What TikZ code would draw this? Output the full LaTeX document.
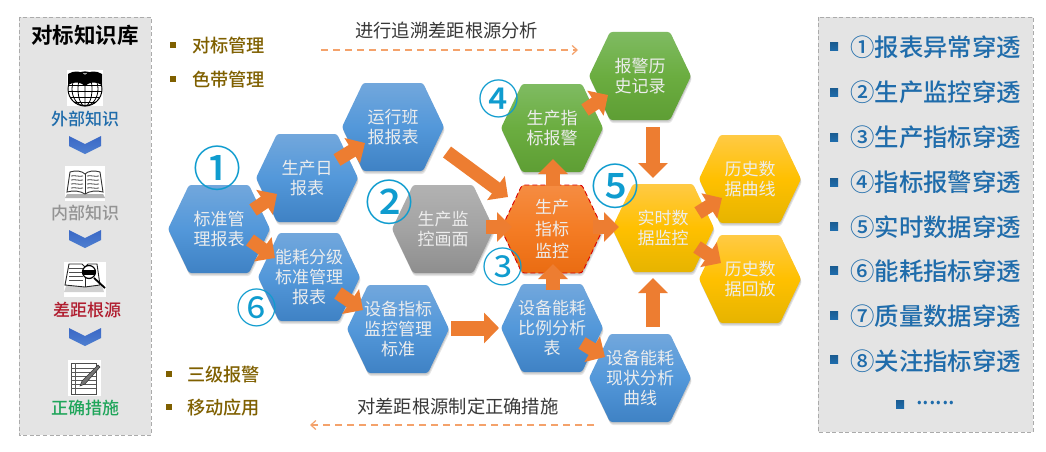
\documentclass[tikz,border=0pt]{standalone}
\usepackage{fontspec}
\setmainfont{Noto Sans CJK SC}[BoldFont={Noto Sans CJK SC Medium}]
\newfontfamily\titlefont{Noto Sans CJK SC Bold}
\usetikzlibrary{arrows.meta,calc,backgrounds}
\definecolor{panelfill}{HTML}{E4E4E4}
\definecolor{panelline}{HTML}{ABABAB}
\definecolor{arrowor}{HTML}{ED7D31}
\definecolor{dashor}{HTML}{F4A26B}
\definecolor{listblue}{HTML}{1F6CAB}
\definecolor{brownish}{HTML}{7F6000}
\definecolor{circ}{HTML}{0F9CCF}
\definecolor{gapred}{HTML}{B01C2E}
\definecolor{fixgreen}{HTML}{1FA55A}
\pgfdeclarelayer{hexbg}
\pgfdeclarelayer{arrowbg}
\pgfsetlayers{hexbg,arrowbg,main}
\tikzset{
  x=1pt,y=-1pt,
  panel/.style={fill=panelfill,draw=panelline,line width=0.8pt,dash pattern=on 4pt off 2.5pt},
  hexlabel/.style={minimum width=102pt,minimum height=88pt,inner sep=0pt,align=center,text=white!93!black,font=\fontsize{17}{20}\selectfont},
  hexblue/.style={top color=blue1,bottom color=blue3,middle color=blue2},
  hexgreen/.style={top color=green1,bottom color=green3,middle color=green2},
  hexgray/.style={top color=gray1,bottom color=gray3,middle color=gray2},
  hexyellow/.style={top color=yel1,bottom color=yel3,middle color=yel2},
  hexorange/.style={top color=or1,bottom color=or3,middle color=or2,draw=red!85!black,line width=0.9pt,dash pattern=on 5pt off 3pt},
  blockarrow/.style={draw=arrowor,line width=13.5pt,-{Triangle[length=15pt,width=29pt]}},
  dasharrow/.style={draw=dashor,line width=1.2pt,dash pattern=on 7pt off 5pt},
  sidetitle/.style={font=\fontsize{21.5}{24}\selectfont\titlefont,text=black,inner sep=0pt},
  sidelabel/.style={font=\fontsize{17}{20}\selectfont\bfseries,inner sep=0pt},
  tag/.style={font=\fontsize{18.2}{20}\selectfont\bfseries,text=brownish,anchor=west,inner sep=0pt},
  note/.style={font=\fontsize{18.3}{20}\selectfont,text=black!78,anchor=west,inner sep=0pt},
  listitem/.style={font=\fontsize{24.4}{26}\selectfont\bfseries,text=listblue,anchor=west,inner sep=0pt},
  bignum/.style={font=\fontsize{48}{50}\selectfont\bfseries,text=circ,inner sep=0pt},
  midnum/.style={font=\fontsize{41}{44}\selectfont,text=circ,inner sep=0pt},
  chevron/.style={top color=chev1,bottom color=chev2},
  iconbg/.style={fill=white},
}
\definecolor{blue1}{HTML}{72A7DC}\definecolor{blue2}{HTML}{5398DA}\definecolor{blue3}{HTML}{3F82C4}
\definecolor{green1}{HTML}{7FBB62}\definecolor{green2}{HTML}{6BAD40}\definecolor{green3}{HTML}{5E9E34}
\definecolor{gray1}{HTML}{B2B2B2}\definecolor{gray2}{HTML}{A3A3A3}\definecolor{gray3}{HTML}{8E8E8E}
\definecolor{yel1}{HTML}{FFCA45}\definecolor{yel2}{HTML}{FFC000}\definecolor{yel3}{HTML}{E6B400}
\definecolor{or1}{HTML}{F58C42}\definecolor{or2}{HTML}{F47C24}\definecolor{or3}{HTML}{EA6C12}
\definecolor{chev1}{HTML}{3A68C6}\definecolor{chev2}{HTML}{4E7FD0}
\newcommand\hexpath{(-51,0) -- (-30,-44) -- (30,-44) -- (51,0) -- (30,44) -- (-30,44) -- cycle}
\newcommand\hexa[5]{%
  \node[hexlabel] (#1) at (#2,#3) {#5};
  \begin{pgfonlayer}{hexbg}
    \begin{scope}[shift={(#2,#3)},rounded corners=2.5pt]
      \fill[black,opacity=0.10,shift={(1,3)}] \hexpath;
      \fill[black,opacity=0.12,shift={(0.5,1.6)}] \hexpath;
      \path[#4] \hexpath;
    \end{scope}
  \end{pgfonlayer}}
\newcommand\sqbullet[3]{\fill[#3] (#1-3,#2-3) rectangle (#1+3,#2+3);}
\newcommand\bluebullet[2]{\fill[top color=listblue!85!black,bottom color=listblue] (#1-4,#2-4) rectangle (#1+4,#2+4);}
\newcommand\chevronat[2]{\path[chevron] (#1-16,#2-8) -- (#1,#2) -- (#1+16,#2-8) -- (#1+16,#2+2) -- (#1,#2+10) -- (#1-16,#2+2) -- cycle;}
\begin{document}
\begin{tikzpicture}
\useasboundingbox (0,0) rectangle (1046,452);
\begin{pgfonlayer}{hexbg}
  \fill[white] (0,0) rectangle (1046,452);
  \path[panel] (19,17) rectangle (151,435);
  \path[panel] (818,17) rectangle (1033,432);
\end{pgfonlayer}

% left panel
\node[sidetitle] (libtitle) at (85,35) {对标知识库};
\fill[iconbg] (67,70) rectangle (103,106);
\begin{scope}
  \draw[black,line width=1pt,fill=white] (85,89) circle (17);
  \draw[black,line width=0.8pt] (85,89) ellipse (7 and 17) (85,89) ellipse (13 and 17) (85,72) -- (85,106);
  \draw[black,line width=0.9pt] (68.5,85) -- (101.5,85) (68,91) -- (102,91) (70,97) -- (100,97) (74,102) -- (96,102);
  \fill[black] (68,74) .. controls (74,70) and (82,71) .. (85,75) .. controls (88,71) and (96,70) .. (102,74) -- (102,85) .. controls (96,81) and (89,82) .. (85,86) .. controls (81,82) and (74,81) .. (68,85) -- cycle;
\end{scope}
\node[sidelabel,text=listblue] (ext) at (85,119) {外部知识};
\chevronat{85}{144}

\fill[iconbg] (65,166) rectangle (105,201);
\begin{scope}
  \fill[black!30] (67,194) -- (103,194) -- (105,198) -- (65,198) -- cycle;
  \draw[black!80,fill=white,line width=0.9pt] (70,172) .. controls (76,170) and (82,171) .. (85,174) .. controls (88,171) and (94,170) .. (100,172) -- (103,192) .. controls (96,190) and (90,191) .. (85,194) .. controls (80,191) and (74,190) .. (67,192) -- cycle;
  \draw[black!80,line width=0.9pt] (85,174) -- (85,194);
  \foreach \yy in {176,180,184,188}{
    \draw[black!75,line width=0.8pt] (71,\yy) .. controls (75,\yy-1) and (79,\yy+1) .. (83,\yy);
    \draw[black!75,line width=0.8pt] (87,\yy) .. controls (91,\yy-1) and (95,\yy+1) .. (99,\yy);
  }
\end{scope}
\node[sidelabel,text=black!42] (int) at (85,213) {内部知识};
\chevronat{85}{238}

\fill[iconbg] (64,262) rectangle (106,297);
\begin{scope}
  \fill[black!18] (66,286) -- (102,286) -- (104,292) -- (64,292) -- cycle;
  \draw[black!85,fill=white,line width=0.9pt] (69,264) -- (82,264) -- (85,267) -- (88,264) -- (97,264) -- (100,285) -- (85,287) -- (65,285) -- cycle;
  \draw[black!85,line width=0.9pt] (85,267) -- (85,287);
  \foreach \yy in {268,272,276,280}{
    \draw[black!70,line width=0.7pt] (69,\yy) -- (83,\yy);
  }
  \draw[black,line width=1.8pt] (94,278) -- (105,288);
  \draw[black,fill=white,line width=1.2pt] (89,272) circle (6.5);
  \fill[black] (83.2,269.5) rectangle (94.8,274.5);
\end{scope}
\node[sidelabel,text=gapred] (gap) at (87,310) {差距根源};
\chevronat{85}{336}

\fill[iconbg] (68,360) rectangle (101,396);
\begin{scope}
  \draw[black!70,fill=white,line width=0.8pt] (71,363) rectangle (96,394);
  \foreach \yy in {368,372,376,380,384,388}{
    \draw[black!65,line width=0.7pt] (71,\yy) -- (96,\yy);
  }
  \draw[black!65,line width=0.7pt] (75,363) -- (75,394);
  \draw[black!80,fill=black!55,line width=0.5pt] (98,365) -- (100,367) -- (85,384) -- (80,386) -- (82,381) -- cycle;
\end{scope}
\node[sidelabel,text=fixgreen] (fix) at (85,408) {正确措施};

% tags
\sqbullet{173}{45}{brownish}
\node[tag] (t1) at (192,46) {对标管理};
\sqbullet{173}{79}{brownish}
\node[tag] (t2) at (192,80) {色带管理};
\sqbullet{169}{374}{brownish}
\node[tag] (t3) at (187,375) {三级报警};
\sqbullet{169}{407}{brownish}
\node[tag] (t4) at (187,408) {移动应用};

% notes and dashed arrows
\node[note] (n1) at (355,31) {进行追溯差距根源分析};
\coordinate (d1a) at (321,50);
\coordinate (d1b) at (578,50);
\draw[dasharrow,-{Straight Barb[length=5pt,width=9pt,line width=1.2pt]}] (d1a) -- (d1b);
\node[note] (n2) at (357,407) {对差距根源制定正确措施};
\coordinate (d2a) at (594,425);
\coordinate (d2b) at (310,425);
\draw[dasharrow,-{Straight Barb[length=5pt,width=9pt,line width=1.2pt]}] (d2a) -- (d2b);

% hexagons
\hexa{std}{219}{229}{hexblue}{标准管\\理报表}
\hexa{daily}{307}{178}{hexblue}{生产日\\报表}
\hexa{shift}{393}{127}{hexblue}{运行班\\报报表}
\hexa{energy}{309}{277}{hexblue}{能耗分级\\标准管理\\报表}
\hexa{screen}{443}{229}{hexgray}{生产监\\控画面}
\hexa{equip}{398}{329}{hexblue}{设备指标\\监控管理\\标准}
\hexa{kpi}{552}{229}{hexorange}{生产\\[2pt]指标\\[2pt]监控}
\hexa{alarm}{552}{128}{hexgreen}{生产指\\标报警}
\hexa{hist}{640}{76}{hexgreen}{报警历\\史记录}
\hexa{ratio}{552}{328}{hexblue}{设备能耗\\比例分析\\表}
\hexa{status}{640}{378}{hexblue}{设备能耗\\现状分析\\曲线}
\hexa{rt}{663}{228}{hexyellow}{实时数\\据监控}
\hexa{curve}{750}{179}{hexyellow}{历史数\\据曲线}
\hexa{replay}{750}{279}{hexyellow}{历史数\\据回放}

% block arrows
\begin{pgfonlayer}{arrowbg}
  \draw[blockarrow] ($(std)+(34,-19)$) -- ($(daily)+(-30,16)$);
  \draw[blockarrow] ($(daily)+(30,-18)$) -- ($(shift)+(-28,16)$);
  \draw[blockarrow] ($(std)+(31,11)$) -- ($(energy)+(-34,-19)$);
  \draw[blockarrow] ($(energy)+(29,16)$) -- ($(equip)+(-35,-19)$);
  \draw[blockarrow] ($(shift)+(54,25)$) -- ($(kpi)+(-44,-32)$);
  \draw[blockarrow] ($(screen)+(43,-2)$) -- ($(kpi)+(-40,-2)$);
  \draw[blockarrow] ($(kpi)+(41,-2)$) -- ($(rt)+(-44,-1)$);
  \draw[blockarrow] ($(kpi)+(1,-43)$) -- ($(alarm)+(1,31)$);
  \draw[blockarrow] ($(ratio)+(1,-38)$) -- ($(kpi)+(1,35)$);
  \draw[blockarrow] ($(alarm)+(33,-18)$) -- ($(hist)+(-32,19)$);
  \draw[blockarrow] ($(hist)+(13,51)$) -- ($(rt)+(-10,-50)$);
  \draw[blockarrow] ($(rt)+(35,-15)$) -- ($(curve)+(-28,19)$);
  \draw[blockarrow] ($(rt)+(34,19)$) -- ($(replay)+(-29,-16)$);
  \draw[blockarrow] ($(status)+(13,-51)$) -- ($(rt)+(-10,50)$);
  \draw[blockarrow,line width=15pt,-{Triangle[length=15pt,width=30pt]}] ($(equip)+(53,-1)$) -- ($(ratio)+(-53,0)$);
  \draw[blockarrow] ($(ratio)+(30,15)$) -- ($(status)+(-35,-21)$);
\end{pgfonlayer}

% circled numbers
\node[bignum] (c1) at (217,168) {①};
\node[bignum] (c2) at (389,202) {②};
\node[midnum] (c3) at (503,267) {③};
\node[bignum,font=\fontsize{41}{44}\selectfont\bfseries] (c4) at (499,99) {④};
\node[bignum] (c5) at (615,186) {⑤};
\node[midnum] (c6) at (257,308) {⑥};

% right panel
\bluebullet{834}{47}\node[listitem] (r1) at (850,47) {①报表异常穿透};
\bluebullet{834}{92}\node[listitem] (r2) at (850,92) {②生产监控穿透};
\bluebullet{834}{137}\node[listitem] (r3) at (850,137) {③生产指标穿透};
\bluebullet{834}{182}\node[listitem] (r4) at (850,182) {④指标报警穿透};
\bluebullet{834}{226}\node[listitem] (r5) at (850,227) {⑤实时数据穿透};
\bluebullet{834}{270}\node[listitem] (r6) at (850,271) {⑥能耗指标穿透};
\bluebullet{834}{315}\node[listitem] (r7) at (850,316) {⑦质量数据穿透};
\bluebullet{834}{359}\node[listitem] (r8) at (850,361) {⑧关注指标穿透};
\bluebullet{900}{404}\node[listitem,font=\fontsize{22}{24}\selectfont\bfseries] (r9) at (916,403) {......};
\end{tikzpicture}
\end{document}
